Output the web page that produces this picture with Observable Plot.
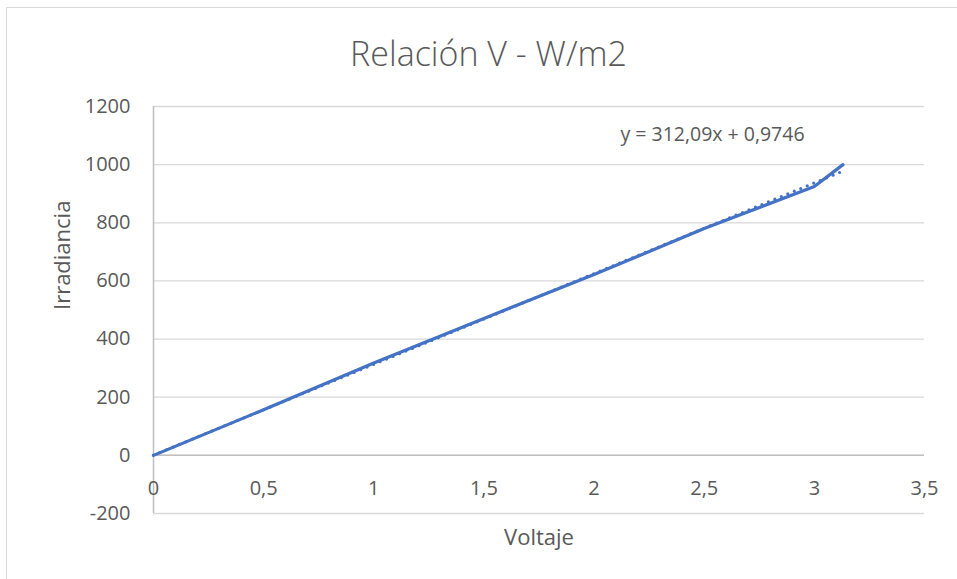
<!DOCTYPE html>
<html>
<head>
<meta charset="utf-8">
<script src="https://cdn.jsdelivr.net/npm/d3@7"></script>
<script src="https://cdn.jsdelivr.net/npm/@observablehq/plot@0.6"></script>
<style>
  html, body { margin: 0; padding: 0; background: #ffffff; }
  #wrap { position: relative; width: 957px; height: 579px; overflow: hidden; background: #fff; }
  #border { position: absolute; left: 6px; top: 7px; width: 1000px; height: 1000px; border: 1px solid #d9d9d9; box-sizing: border-box; }
  #chart { position: absolute; left: 0; top: 0; }
</style>
</head>
<body>
<div id="wrap"><div id="border"></div><div id="chart"></div></div>
<script>
const titulo = "Relación V - W/m2";
const ecuacion = "y = 312,09x + 0,9746";
const ejeX = "Voltaje";
const ejeY = "Irradiancia";

const voltaje = [0, 0.5, 1.0, 1.5, 2.0, 2.5, 3.0, 3.13];
const irradiancia = [0, 157, 318, 471, 622, 780, 925, 1000];

const pendiente = 312.09;
const intercepto = 0.9746;

const xTicks = [0, 0.5, 1, 1.5, 2, 2.5, 3, 3.5];
const yTicks = [-200, 0, 200, 400, 600, 800, 1000, 1200];

const datos = voltaje.map((v, i) => ({v, w: irradiancia[i]}));
const xMin = d3.min(voltaje), xMax = d3.max(voltaje);
const tendencia = [xMin, xMax].map(v => ({v, w: pendiente * v + intercepto}));

const azul = "#4472C4";
const gris = "#595959";
const font = "'Open Sans', sans-serif";
const fmt = d => String(d).replace(".", ",");

const chart = Plot.plot({
  width: 957,
  height: 579,
  marginTop: 106,
  marginBottom: 66,
  marginLeft: 153,
  marginRight: 33,
  style: {fontFamily: font, color: gris, background: "transparent", overflow: "visible"},
  x: {domain: [0, 3.5], axis: null},
  y: {domain: [-200, 1200], axis: null},
  marks: [
    Plot.gridY(yTicks, {stroke: "#d9d9d9", strokeOpacity: 1, strokeWidth: 1.3}),
    Plot.ruleY([0], {stroke: "#bfbfbf", strokeWidth: 1.5}),
    Plot.ruleX([0], {stroke: "#bfbfbf", strokeWidth: 1.5}),
    Plot.axisY(yTicks, {tickSize: 0, tickPadding: 23, fontSize: 20, tickFormat: fmt, fill: gris, label: null}),
    Plot.text(xTicks, {x: d => d, y: 0, text: fmt, dy: 33, fontSize: 20, fill: gris}),
    Plot.line(tendencia, {x: "v", y: "w", stroke: azul, strokeWidth: 3.2, strokeDasharray: "0 7", strokeLinecap: "round"}),
    Plot.line(datos, {x: "v", y: "w", stroke: azul, strokeWidth: 3.2, strokeLinejoin: "round"}),
    Plot.text([titulo], {frameAnchor: "top-left", dx: 335, dy: -51, lineAnchor: "middle", textAnchor: "middle", fontSize: 34, fontWeight: 300, fill: gris}),
    Plot.text([ecuacion], {frameAnchor: "top-left", dx: 559, dy: 28, lineAnchor: "middle", textAnchor: "middle", fontSize: 19.5, fill: gris}),
    Plot.text([ejeX], {frameAnchor: "bottom", dy: 24, lineAnchor: "middle", fontSize: 22, fill: gris}),
    Plot.text([ejeY], {frameAnchor: "left", dx: -91, rotate: -90, lineAnchor: "middle", fontSize: 22, fill: gris})
  ]
});
document.getElementById("chart").appendChild(chart);
</script>
</body>
</html>
